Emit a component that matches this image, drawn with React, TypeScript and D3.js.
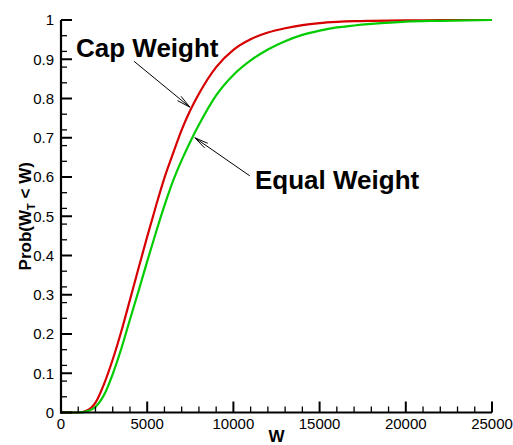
import React from "react";
import * as d3 from "d3";

const wValues = [0, 1000, 1500, 2000, 2500, 3000, 3500, 4000, 4500, 5000, 5500, 6000, 6500, 7000, 7500, 8000, 9000, 10000, 11000, 12000, 13000, 14000, 15000, 16000, 17000, 18000, 20000, 22000, 25000];
const capWeight = [0, 0, 0.005, 0.025, 0.073, 0.135, 0.207, 0.287, 0.368, 0.448, 0.525, 0.598, 0.66, 0.72, 0.77, 0.812, 0.88, 0.924, 0.951, 0.968, 0.979, 0.987, 0.992, 0.995, 0.997, 0.998, 0.999, 1.0, 1.0];
const equalWeight = [0, 0, 0.003, 0.014, 0.045, 0.098, 0.163, 0.237, 0.31, 0.385, 0.458, 0.527, 0.59, 0.643, 0.69, 0.733, 0.808, 0.86, 0.897, 0.925, 0.946, 0.962, 0.973, 0.981, 0.986, 0.99, 0.996, 0.998, 1.0];
const xTicks = [0, 5000, 10000, 15000, 20000, 25000];
const yTicks = [0, 0.1, 0.2, 0.3, 0.4, 0.5, 0.6, 0.7, 0.8, 0.9, 1];
const seriesNames = ["Cap Weight", "Equal Weight"];
const seriesColors = ["#d60000", "#00cc00"];

const W = 513, H = 445;
const x = d3.scaleLinear().domain([0, 25000]).range([61, 492]);
const y = d3.scaleLinear().domain([0, 1]).range([412.5, 20]);

function Arrow({ x1, y1, x2, y2 }: { x1: number; y1: number; x2: number; y2: number }) {
  const ang = Math.atan2(y1 - y2, x1 - x2);
  const L = 14, spread = 0.2;
  const b1 = [x2 + L * Math.cos(ang + spread), y2 + L * Math.sin(ang + spread)];
  const b2 = [x2 + L * Math.cos(ang - spread), y2 + L * Math.sin(ang - spread)];
  return (
    <g stroke="#000" strokeWidth={1} fill="none">
      <line x1={x1} y1={y1} x2={x2} y2={y2} />
      <polyline points={`${b1[0]},${b1[1]} ${x2},${y2} ${b2[0]},${b2[1]}`} />
    </g>
  );
}

export default function App() {
  const line = d3
    .line<number>()
    .x((_, i) => x(wValues[i]))
    .y((d) => y(d))
    .curve(d3.curveMonotoneX);
  const xMinor = d3.range(0, 25001, 1000).filter((v) => v % 5000 !== 0);
  const yMinor = d3.range(0, 51, 2).map((v) => v / 50).filter((v, i) => i % 5 !== 0);
  const font = "'Liberation Sans', Arial, Helvetica, sans-serif";
  return (
    <svg width={W} height={H} style={{ position: "absolute", left: 0, top: 0, background: "#fff" }} fontFamily={font}>
      {[capWeight, equalWeight].map((s, i) => (
        <path key={i} d={line(s) || ""} fill="none" stroke={seriesColors[i]} strokeWidth={2.2} />
      ))}
      <g stroke="#000">
        <line x1={x(0)} x2={x(0)} y1={y(0) + 1} y2={y(1)} strokeWidth={2.2} />
        <line x1={x(0) - 1} x2={x(25000)} y1={y(0)} y2={y(0)} strokeWidth={2.2} />
        {xTicks.map((t) => (
          <line key={"xm" + t} x1={x(t)} x2={x(t)} y1={y(0)} y2={y(0) - 11} strokeWidth={2} />
        ))}
        {xMinor.map((t) => (
          <line key={"xn" + t} x1={x(t)} x2={x(t)} y1={y(0)} y2={y(0) - 6} strokeWidth={1.3} />
        ))}
        {yTicks.map((t) => (
          <line key={"ym" + t} x1={x(0)} x2={x(0) + 11} y1={y(t)} y2={y(t)} strokeWidth={2} />
        ))}
        {yMinor.map((t) => (
          <line key={"yn" + t} x1={x(0)} x2={x(0) + 6} y1={y(t)} y2={y(t)} strokeWidth={1.3} />
        ))}
      </g>
      <g fontSize={15} fill="#000">
        {xTicks.map((t) => (
          <text key={"xl" + t} x={x(t)} y={y(0) + 16} textAnchor="middle">{t}</text>
        ))}
        {yTicks.map((t) => (
          <text key={"yl" + t} x={54} y={y(t) + 5.3} textAnchor="end">{String(t)}</text>
        ))}
      </g>
      <text x={(x(0) + x(25000)) / 2} y={442} textAnchor="middle" fontWeight="bold" fontSize={17}>W</text>
      <text transform={`translate(31,${(y(0) + y(1)) / 2}) rotate(-90)`} textAnchor="middle" fontWeight="bold" fontSize={17}>
        Prob(W<tspan fontSize={11} dy={4}>T</tspan><tspan dy={-4}> &lt; W)</tspan>
      </text>
      <text x={76} y={57} fontWeight="bold" fontSize={26}>{seriesNames[0]}</text>
      <text x={255} y={188.5} fontWeight="bold" fontSize={26}>{seriesNames[1]}</text>
      <Arrow x1={x(4229)} y1={y(0.895)} x2={x(7474)} y2={y(0.778)} />
      <Arrow x1={x(10950)} y1={y(0.603)} x2={x(7763)} y2={y(0.7)} />
    </svg>
  );
}
